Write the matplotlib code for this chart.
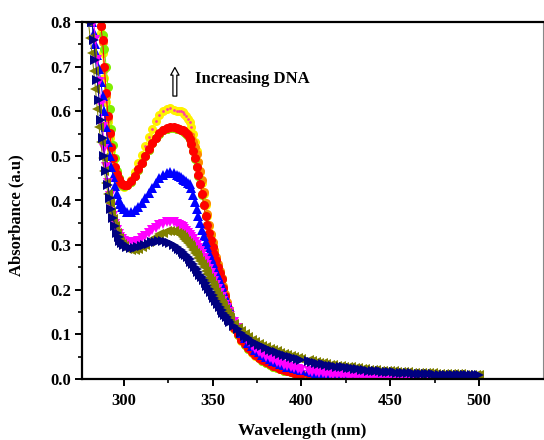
import numpy as np
import matplotlib
matplotlib.use("Agg")
import matplotlib.pyplot as plt

plt.rcParams["font.family"] = ["Liberation Serif", "DejaVu Serif"]
plt.rcParams["font.weight"] = "bold"

# Wavelength grid (nm): fine steps where the spectra change quickly
wavelength = np.concatenate([
    np.arange(280, 301, 1),
    np.arange(302, 331, 2),
    np.arange(331, 361, 1),
    np.arange(362, 401, 2),
    np.arange(404, 501, 2),
])

abs_yellow = [
    1.0, 0.97, 0.94, 0.91, 0.88, 0.85, 0.815, 0.775, 0.73, 0.675, 0.62, 0.575, 0.54, 0.51, 0.487, 0.468, 0.454, 0.443, 0.436, 0.432, 0.431,
    0.435, 0.447, 0.464, 0.483, 0.503, 0.523, 0.542, 0.561, 0.578, 0.592, 0.601, 0.606, 0.607, 0.603, 0.600,
    0.600, 0.600, 0.598, 0.594, 0.589, 0.583, 0.575, 0.565, 0.550, 0.532,
    0.510, 0.487, 0.463, 0.440, 0.415, 0.390, 0.365, 0.342, 0.322, 0.304,
    0.287, 0.270, 0.254, 0.238, 0.223, 0.205, 0.187, 0.170, 0.154, 0.140,
    0.112, 0.098, 0.086, 0.076, 0.067, 0.059, 0.052, 0.046, 0.041, 0.036,
    0.032, 0.028, 0.025, 0.022, 0.019, 0.017, 0.015, 0.013, 0.011, 0.010,
    0.007, 0.006, 0.005, 0.004, 0.003, 0.0025, 0.002, 0.0015, 0.001, 0.0005,
    0.0, 0.0, 0.0, 0.0, 0.0, 0.0, 0.0, 0.0, 0.0, 0.0,
    0.0, 0.0, 0.0, 0.0, 0.0, 0.0, 0.0, 0.0, 0.0, 0.0,
    0.0, 0.0, 0.0, 0.0, 0.0, 0.0, 0.0, 0.0, 0.0, 0.0,
    0.0, 0.0, 0.0, 0.0, 0.0, 0.0, 0.0, 0.0, 0.0,
]

abs_orange = [
    1.0, 0.97, 0.94, 0.91, 0.88, 0.85, 0.82, 0.79, 0.755, 0.695, 0.635, 0.585, 0.548, 0.517, 0.492, 0.472, 0.459, 0.448, 0.440, 0.435, 0.433,
    0.434, 0.442, 0.454, 0.469, 0.484, 0.499, 0.514, 0.528, 0.540, 0.550, 0.557, 0.561, 0.563, 0.563, 0.561,
    0.560, 0.558, 0.556, 0.554, 0.551, 0.548, 0.544, 0.538, 0.530, 0.519,
    0.505, 0.487, 0.467, 0.445, 0.420, 0.394, 0.369, 0.346, 0.326, 0.308,
    0.290, 0.273, 0.257, 0.241, 0.226, 0.208, 0.190, 0.173, 0.157, 0.142,
    0.118, 0.103, 0.090, 0.080, 0.071, 0.063, 0.055, 0.049, 0.043, 0.038,
    0.034, 0.030, 0.027, 0.024, 0.021, 0.019, 0.017, 0.015, 0.013, 0.012,
    0.009, 0.008, 0.007, 0.006, 0.005, 0.004, 0.003, 0.0025, 0.002, 0.0015,
    0.001, 0.0005, 0.0, 0.0, 0.0, 0.0, 0.0, 0.0, 0.0, 0.0,
    0.0, 0.0, 0.0, 0.0, 0.0, 0.0, 0.0, 0.0, 0.0, 0.0,
    0.0, 0.0, 0.0, 0.0, 0.0, 0.0, 0.0, 0.0, 0.0, 0.0,
    0.0, 0.0, 0.0, 0.0, 0.0, 0.0, 0.0, 0.0, 0.0,
]

abs_green = [
    1.0, 0.97, 0.94, 0.91, 0.88, 0.85, 0.82, 0.79, 0.77, 0.74, 0.70, 0.655, 0.605, 0.56, 0.525, 0.495, 0.466, 0.450, 0.441, 0.435, 0.433,
    0.434, 0.442, 0.454, 0.469, 0.484, 0.499, 0.514, 0.528, 0.540, 0.550, 0.557, 0.561, 0.563, 0.563, 0.561,
    0.560, 0.558, 0.556, 0.554, 0.550, 0.545, 0.537, 0.526, 0.511, 0.494,
    0.475, 0.456, 0.436, 0.413, 0.389, 0.365, 0.344, 0.326, 0.310, 0.295,
    0.280, 0.265, 0.251, 0.237, 0.223, 0.204, 0.184, 0.164, 0.149, 0.135,
    0.114, 0.099, 0.087, 0.077, 0.068, 0.060, 0.053, 0.047, 0.041, 0.036,
    0.032, 0.028, 0.025, 0.022, 0.019, 0.017, 0.015, 0.013, 0.011, 0.010,
    0.007, 0.006, 0.005, 0.004, 0.003, 0.0025, 0.002, 0.0015, 0.001, 0.0005,
    0.0, 0.0, 0.0, 0.0, 0.0, 0.0, 0.0, 0.0, 0.0, 0.0,
    0.0, 0.0, 0.0, 0.0, 0.0, 0.0, 0.0, 0.0, 0.0, 0.0,
    0.0, 0.0, 0.0, 0.0, 0.0, 0.0, 0.0, 0.0, 0.0, 0.0,
    0.0, 0.0, 0.0, 0.0, 0.0, 0.0, 0.0, 0.0, 0.0,
]

abs_red = [
    1.0, 0.97, 0.94, 0.91, 0.88, 0.85, 0.82, 0.79, 0.76, 0.70, 0.64, 0.59, 0.552, 0.52, 0.495, 0.475, 0.46, 0.449, 0.441, 0.436, 0.434,
    0.435, 0.443, 0.455, 0.470, 0.485, 0.500, 0.515, 0.529, 0.541, 0.551, 0.558, 0.562, 0.564, 0.564, 0.562,
    0.561, 0.559, 0.557, 0.555, 0.551, 0.546, 0.538, 0.527, 0.512, 0.495,
    0.476, 0.457, 0.437, 0.414, 0.390, 0.366, 0.345, 0.327, 0.311, 0.296,
    0.281, 0.266, 0.252, 0.238, 0.224, 0.205, 0.185, 0.165, 0.150, 0.136,
    0.115, 0.100, 0.088, 0.078, 0.069, 0.061, 0.054, 0.048, 0.042, 0.037,
    0.033, 0.029, 0.026, 0.023, 0.020, 0.018, 0.016, 0.014, 0.012, 0.011,
    0.008, 0.007, 0.006, 0.005, 0.004, 0.003, 0.002, 0.0015, 0.001, 0.0005,
    0.0, 0.0, 0.0, 0.0, 0.0, 0.0, 0.0, 0.0, 0.0, 0.0,
    0.0, 0.0, 0.0, 0.0, 0.0, 0.0, 0.0, 0.0, 0.0, 0.0,
    0.0, 0.0, 0.0, 0.0, 0.0, 0.0, 0.0, 0.0, 0.0, 0.0,
    0.0, 0.0, 0.0, 0.0, 0.0, 0.0, 0.0, 0.0, 0.0,
]

abs_blue = [
    0.86, 0.83, 0.80, 0.775, 0.75, 0.725, 0.695, 0.665, 0.635, 0.60, 0.565, 0.53, 0.50, 0.475, 0.452, 0.432, 0.415, 0.402, 0.392, 0.385, 0.38,
    0.375, 0.375, 0.378, 0.385, 0.394, 0.405, 0.417, 0.429, 0.440, 0.450, 0.457, 0.462, 0.463, 0.462, 0.458,
    0.455, 0.452, 0.449, 0.446, 0.443, 0.440, 0.436, 0.428, 0.413, 0.397,
    0.381, 0.366, 0.350, 0.335, 0.320, 0.307, 0.295, 0.283, 0.272, 0.261,
    0.250, 0.240, 0.230, 0.219, 0.208, 0.197, 0.186, 0.175, 0.164, 0.154,
    0.134, 0.117, 0.103, 0.091, 0.081, 0.073, 0.066, 0.060, 0.054, 0.049,
    0.045, 0.041, 0.037, 0.034, 0.031, 0.028, 0.026, 0.024, 0.022, 0.020,
    0.017, 0.0155, 0.014, 0.013, 0.012, 0.011, 0.010, 0.0095, 0.009, 0.0085,
    0.008, 0.0075, 0.007, 0.0065, 0.006, 0.0055, 0.005, 0.005, 0.005, 0.0045,
    0.004, 0.004, 0.004, 0.0035, 0.003, 0.003, 0.003, 0.003, 0.003, 0.0025,
    0.002, 0.002, 0.002, 0.002, 0.002, 0.002, 0.002, 0.002, 0.002, 0.0015,
    0.001, 0.001, 0.001, 0.001, 0.001, 0.001, 0.001, 0.001, 0.001,
]

abs_magenta = [
    0.92, 0.88, 0.84, 0.80, 0.76, 0.715, 0.665, 0.615, 0.565, 0.515, 0.475, 0.44, 0.41, 0.385, 0.365, 0.348, 0.335, 0.325, 0.318, 0.313, 0.31,
    0.307, 0.306, 0.307, 0.310, 0.315, 0.320, 0.327, 0.333, 0.339, 0.344, 0.348, 0.351, 0.352, 0.351, 0.348,
    0.346, 0.343, 0.340, 0.336, 0.332, 0.328, 0.323, 0.318, 0.313, 0.307,
    0.301, 0.294, 0.287, 0.280, 0.272, 0.264, 0.256, 0.247, 0.238, 0.229,
    0.220, 0.211, 0.202, 0.193, 0.184, 0.175, 0.166, 0.158, 0.150, 0.142,
    0.128, 0.115, 0.103, 0.092, 0.082, 0.074, 0.067, 0.061, 0.055, 0.050,
    0.046, 0.042, 0.038, 0.035, 0.032, 0.029, 0.027, 0.025, 0.023, 0.021,
    0.018, 0.0165, 0.015, 0.014, 0.013, 0.012, 0.011, 0.010, 0.009, 0.0085,
    0.008, 0.0075, 0.007, 0.0065, 0.006, 0.0055, 0.005, 0.005, 0.005, 0.0045,
    0.004, 0.004, 0.004, 0.0035, 0.003, 0.003, 0.003, 0.003, 0.003, 0.0025,
    0.002, 0.002, 0.002, 0.002, 0.002, 0.002, 0.002, 0.002, 0.002, 0.0015,
    0.001, 0.001, 0.001, 0.001, 0.001, 0.001, 0.001, 0.001, 0.001,
]

abs_olive = [
    0.80, 0.765, 0.73, 0.69, 0.65, 0.605, 0.565, 0.53, 0.495, 0.465, 0.44, 0.415, 0.395, 0.375, 0.358, 0.342, 0.328, 0.317, 0.308, 0.302, 0.297,
    0.292, 0.290, 0.290, 0.292, 0.296, 0.301, 0.307, 0.313, 0.319, 0.324, 0.328, 0.331, 0.332, 0.331, 0.327,
    0.325, 0.322, 0.318, 0.314, 0.310, 0.305, 0.300, 0.295, 0.289, 0.283,
    0.277, 0.271, 0.264, 0.257, 0.250, 0.242, 0.235, 0.227, 0.219, 0.211,
    0.203, 0.195, 0.187, 0.179, 0.171, 0.163, 0.156, 0.149, 0.142, 0.136,
    0.124, 0.115, 0.107, 0.100, 0.094, 0.088, 0.083, 0.079, 0.075, 0.071,
    0.068, 0.065, 0.062, 0.059, 0.056, 0.054, 0.051, 0.049, 0.047, 0.045,
    0.042, 0.040, 0.038, 0.0365, 0.035, 0.0335, 0.032, 0.031, 0.030, 0.029,
    0.028, 0.027, 0.026, 0.025, 0.024, 0.023, 0.022, 0.021, 0.020, 0.0195,
    0.019, 0.0185, 0.018, 0.0175, 0.017, 0.0165, 0.016, 0.0155, 0.015, 0.0145,
    0.014, 0.014, 0.014, 0.0135, 0.013, 0.0125, 0.012, 0.012, 0.012, 0.0115,
    0.011, 0.011, 0.011, 0.0105, 0.010, 0.010, 0.010, 0.010, 0.010,
]

abs_navy = [
    0.88, 0.84, 0.80, 0.76, 0.715, 0.67, 0.625, 0.58, 0.54, 0.50, 0.465, 0.435, 0.405, 0.38, 0.36, 0.342, 0.328, 0.318, 0.31, 0.304, 0.30,
    0.296, 0.294, 0.294, 0.295, 0.297, 0.300, 0.303, 0.306, 0.308, 0.309, 0.309, 0.307, 0.304, 0.300, 0.295,
    0.292, 0.289, 0.285, 0.281, 0.277, 0.273, 0.268, 0.263, 0.258, 0.252,
    0.246, 0.240, 0.234, 0.228, 0.222, 0.215, 0.208, 0.201, 0.194, 0.188,
    0.181, 0.174, 0.168, 0.161, 0.155, 0.149, 0.143, 0.138, 0.133, 0.128,
    0.119, 0.111, 0.104, 0.097, 0.091, 0.086, 0.081, 0.077, 0.073, 0.069,
    0.066, 0.063, 0.060, 0.057, 0.054, 0.052, 0.049, 0.047, 0.045, 0.043,
    0.040, 0.038, 0.036, 0.0345, 0.033, 0.0315, 0.030, 0.029, 0.028, 0.027,
    0.026, 0.025, 0.024, 0.023, 0.022, 0.021, 0.020, 0.019, 0.018, 0.0175,
    0.017, 0.0165, 0.016, 0.0155, 0.015, 0.0145, 0.014, 0.0135, 0.013, 0.0125,
    0.012, 0.012, 0.012, 0.0115, 0.011, 0.0105, 0.010, 0.010, 0.010, 0.0095,
    0.009, 0.009, 0.009, 0.0085, 0.008, 0.008, 0.008, 0.008, 0.008,
]

x_ticks = [300, 350, 400, 450, 500]
y_ticks = [0.0, 0.1, 0.2, 0.3, 0.4, 0.5, 0.6, 0.7, 0.8]

# (values, colour, marker, size), drawn from bottom layer to top layer
series = [
    (abs_yellow, "#FFF200", "o", 6.5),
    (abs_orange, "#FF8A00", "o", 6.5),
    (abs_green, "#7FEF00", "o", 6.5),
    (abs_red, "#FF0000", "o", 6.5),
    (abs_blue, "#0000FF", "^", 7.0),
    (abs_magenta, "#FF00FF", "v", 7.0),
    (abs_olive, "#808000", "<", 7.0),
    (abs_navy, "#000080", ">", 7.0),
]

fig = plt.figure(figsize=(5.44, 4.40), dpi=100)
ax = fig.add_axes([82 / 544, 61 / 440, 461 / 544, 357 / 440])

for values, color, marker, size in series:
    ax.plot(wavelength, values, color=color, lw=0.7, marker=marker,
            markersize=size, markeredgewidth=0, markerfacecolor=color)
    if values is abs_yellow:
        ax.plot(wavelength, values, linestyle="none", marker="o",
                markersize=2.0, markeredgewidth=0, markerfacecolor="#FF3FA0")

ax.set_xlim(276.4, 536)
ax.set_ylim(0.0, 0.8)
ax.set_xticks(x_ticks)
ax.set_yticks(y_ticks)
ax.set_xticks([325, 375, 425, 475], minor=True)
ax.set_yticks([0.05, 0.15, 0.25, 0.35, 0.45, 0.55, 0.65, 0.75], minor=True)
ax.set_yticklabels([f"{v:.1f}" for v in y_ticks])
ax.tick_params(which="major", direction="out", length=5, width=1.4,
               labelsize=12, pad=3)
ax.tick_params(axis="x", which="major", pad=5)
ax.tick_params(which="minor", direction="out", length=2.8, width=1.2)
ax.tick_params(top=False, right=False, which="both")

for side in ("left", "bottom", "top"):
    ax.spines[side].set_linewidth(1.6)
    ax.spines[side].set_color("black")
ax.spines["right"].set_linewidth(0.8)
ax.spines["right"].set_color("#888888")

ax.set_xlabel("Wavelength (nm)", fontsize=12.5, fontweight="bold")
ax.set_ylabel("Absorbance (a.u)", fontsize=12, fontweight="bold")
ax.xaxis.set_label_coords(0.478, -0.122)
ax.yaxis.set_label_coords(-0.125, 0.46)

ax.annotate("", xy=(328.7, 0.698), xytext=(328.7, 0.634),
            arrowprops=dict(arrowstyle="simple,head_length=0.55,head_width=0.6,tail_width=0.28",
                            facecolor="white", edgecolor="black", lw=0.9,
                            mutation_scale=10, shrinkA=0, shrinkB=0))
ax.text(340, 0.673, "Increasing DNA", fontsize=12, fontweight="bold",
        ha="left", va="center")

fig.savefig("out.png", dpi=100)
